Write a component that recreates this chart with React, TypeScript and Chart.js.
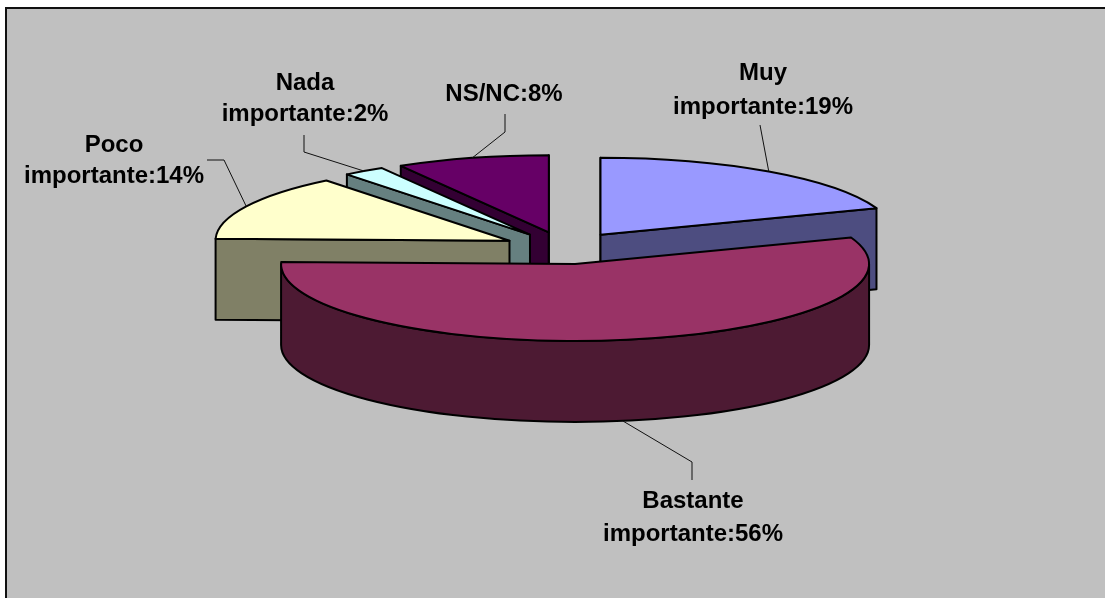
import React, { useEffect, useRef } from "react";
import { Chart, registerables } from "chart.js";

Chart.register(...registerables);

const categories = ["Muy importante", "Bastante importante", "Poco importante", "Nada importante", "NS/NC"];
const shares = [19.4, 56.0, 13.9, 2.3, 8.4];
const printedPercent = [19, 56, 14, 2, 8];
const topColours = ["#9999FF", "#993366", "#FFFFCC", "#CCFFFF", "#660066"];
const sideColours = ["#4D4D80", "#4D1A33", "#808066", "#668080", "#330033"];

const W = 1105, H = 598;
const TILT = 77 / 294;
const DEPTH = 81;
const CENTRE_Y = 248;
const DRAW_ORDER = [4, 3, 2, 0, 1];

const labelSpots = [
  { lines: ["Muy", "importante:19%"], x: 763, ys: [73, 107], elbows: [[760, 125]] },
  { lines: ["Bastante", "importante:56%"], x: 693, ys: [501, 534], elbows: [[692, 480], [692, 462]] },
  { lines: ["Poco", "importante:14%"], x: 114, ys: [145, 176], elbows: [[207, 160], [224, 160]] },
  { lines: ["Nada", "importante:2%"], x: 305, ys: [83, 114], elbows: [[304, 135], [304, 152]] },
  { lines: ["NS/NC:8%"], x: 504, ys: [94], elbows: [[505, 114], [505, 132]] },
];

const pie3d = {
  id: "pie3d",
  beforeDraw(chart: any) {
    const c = chart.ctx;
    c.save();
    c.fillStyle = "#ffffff";
    c.fillRect(0, 0, W, H);
    c.fillStyle = "#C0C0C0";
    c.fillRect(6, 8, W - 6, H - 8);
    c.fillStyle = "#111111";
    c.fillRect(5, 7, W - 5, 2);
    c.fillRect(5, 7, 2, H - 7);
    c.restore();
  },
  beforeDatasetsDraw(chart: any) {
    const c = chart.ctx;
    const arcs = chart.getDatasetMeta(0).data;
    const geo = (i: number) => {
      const a = arcs[i];
      const off = a.options.offset;
      const mid = (a.startAngle + a.endAngle) / 2;
      const cx = a.x + Math.cos(mid) * off;
      const cy = CENTRE_Y + Math.sin(mid) * off * TILT;
      const r = a.outerRadius;
      const rim = (t: number, dy = 0) => [cx + Math.cos(t) * r, cy + Math.sin(t) * r * TILT + dy];
      return { a, mid, cx, cy, r, rim };
    };
    c.save();
    c.lineJoin = "round";
    c.lineWidth = 2;
    c.strokeStyle = "#000";
    for (const i of DRAW_ORDER) {
      const { a, cx, cy, r, rim } = geo(i);
      c.fillStyle = sideColours[i];
      // flat cut walls, only those that face the viewer
      const walls: number[] = [];
      if (Math.cos(a.startAngle) < 1e-6) walls.push(a.startAngle);
      if (Math.cos(a.endAngle) > -1e-6) walls.push(a.endAngle);
      for (const t of walls) {
        const p = rim(t);
        c.beginPath();
        c.moveTo(cx, cy);
        c.lineTo(p[0], p[1]);
        c.lineTo(p[0], p[1] + DEPTH);
        c.lineTo(cx, cy + DEPTH);
        c.closePath();
        c.fill();
        c.stroke();
      }
      // curved outer wall, only the part that faces the viewer
      const TAU = Math.PI * 2;
      for (const shift of [0, TAU, -TAU]) {
        const lo = Math.max(a.startAngle, shift), hi = Math.min(a.endAngle, shift + Math.PI);
        if (hi > lo) {
          const p = rim(lo), q = rim(hi);
          c.beginPath();
          c.moveTo(p[0], p[1]);
          c.ellipse(cx, cy, r, r * TILT, 0, lo, hi);
          c.lineTo(q[0], q[1] + DEPTH);
          c.ellipse(cx, cy + DEPTH, r, r * TILT, 0, hi, lo, true);
          c.closePath();
          c.fill();
          c.stroke();
        }
      }
      // top face
      c.fillStyle = a.options.backgroundColor;
      c.beginPath();
      c.moveTo(cx, cy);
      c.ellipse(cx, cy, r, r * TILT, 0, a.startAngle, a.endAngle);
      c.closePath();
      c.fill();
      c.stroke();
    }
    // leader lines
    c.lineWidth = 1;
    c.strokeStyle = "#111";
    labelSpots.forEach((spot, i) => {
      const { mid, rim } = geo(i);
      const front = Math.sin(mid) > 0;
      const end = rim(mid, front ? DEPTH : 0);
      c.beginPath();
      spot.elbows.forEach((e, k) => (k ? c.lineTo(e[0], e[1]) : c.moveTo(e[0], e[1])));
      c.lineTo(end[0], end[1]);
      c.stroke();
    });
    // labels
    c.fillStyle = "#000";
    c.font = 'bold 24px "Liberation Sans", Arial, sans-serif';
    c.textAlign = "center";
    c.textBaseline = "middle";
    labelSpots.forEach((spot) => {
      spot.lines.forEach((t, k) => c.fillText(t, spot.x, spot.ys[k]));
    });
    c.restore();
    return false;
  },
};

export default function App() {
  const ref = useRef<HTMLCanvasElement>(null);
  useEffect(() => {
    const chart = new Chart(ref.current!, {
      type: "pie",
      data: {
        labels: categories.map((n, i) => `${n}:${printedPercent[i]}%`),
        datasets: [
          {
            data: shares,
            backgroundColor: topColours,
            offset: 62,
            radius: 294,
            borderWidth: 0,
          } as any,
        ],
      },
      options: {
        animation: false,
        responsive: false,
        layout: { padding: { left: 25, bottom: 100 } },
        plugins: { legend: { display: false }, tooltip: { enabled: false } },
      },
      plugins: [pie3d as any],
    });
    return () => chart.destroy();
  }, []);
  return (
    <canvas
      ref={ref}
      width={W}
      height={H}
      style={{ position: "absolute", left: 0, top: 0, display: "block" }}
    />
  );
}
